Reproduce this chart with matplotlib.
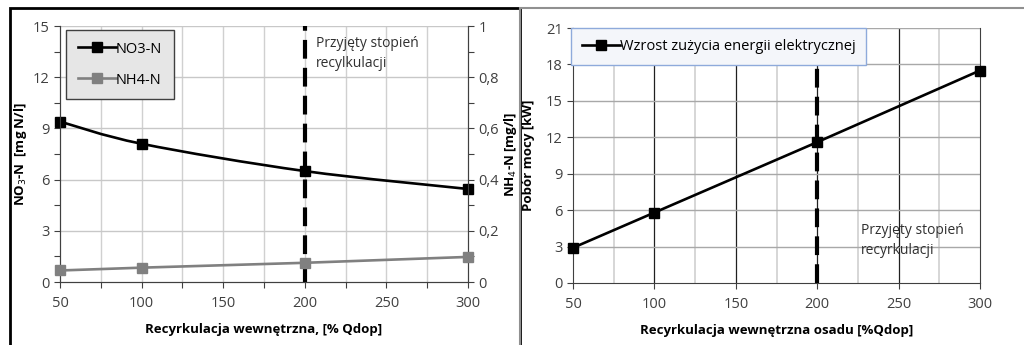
import matplotlib
matplotlib.use("Agg")
import matplotlib.pyplot as plt
from matplotlib.path import Path
from matplotlib.patches import PathPatch, Rectangle
from matplotlib.lines import Line2D

plt.rcParams['font.family'] = ['Liberation Sans Narrow', 'Open Sans', 'DejaVu Sans']

# data
recirc = [50, 100, 200, 300]
no3 = [9.4, 8.1, 6.5, 5.45]
nh4 = [0.045, 0.056, 0.075, 0.098]
power = [2.9, 5.8, 11.6, 17.5]
chosen = 200


def smooth_path(x, y):
    # Catmull-Rom -> cubic bezier, like Excel's smoothed line
    verts = [(x[0], y[0])]
    codes = [Path.MOVETO]
    n = len(x)
    for i in range(n - 1):
        x0, y0 = (x[i - 1], y[i - 1]) if i > 0 else (x[i], y[i])
        x1, y1 = x[i], y[i]
        x2, y2 = x[i + 1], y[i + 1]
        x3, y3 = (x[i + 2], y[i + 2]) if i + 2 < n else (x2, y2)
        c1 = (x1 + (x2 - x0) / 6, y1 + (y2 - y0) / 6)
        c2 = (x2 - (x3 - x1) / 6, y2 - (y3 - y1) / 6)
        verts += [c1, c2, (x2, y2)]
        codes += [Path.CURVE4] * 3
    return Path(verts, codes)


fig = plt.figure(figsize=(10.24, 3.45), dpi=100)

# panel frames
fig.patches.append(Rectangle((10 / 1024, -0.1), 510 / 1024, 1.1 - 8 / 345, transform=fig.transFigure,
                             fill=False, edgecolor='black', linewidth=2))
fig.patches.append(Rectangle((520 / 1024, -0.1), 0.6, 1.1 - 8 / 345, transform=fig.transFigure,
                             fill=False, edgecolor='#909090', linewidth=1.5))

TS = 10.5   # tick label size
LS = 9.5    # axis label size
MS = 7.5
LW = 1.9
tick_kw = dict(labelsize=TS, colors='#404040', length=4, width=0.8)

# ---------- left chart ----------
ax = fig.add_axes([60 / 1024, 1 - 282 / 345, 408 / 1024, 256 / 345])
ax.set_xlim(50, 300)
ax.set_ylim(0, 15)
ax.set_xticks(range(50, 301, 50))
ax.set_xticks(range(75, 300, 50), minor=True)
ax.set_yticks(range(0, 16, 3))
ax.set_yticks([1.5 + 3 * i for i in range(5)], minor=True)
for v in range(75, 300, 25):
    ax.axvline(v, color='#d0d0d0', lw=1, zorder=0)
for v in range(3, 16, 3):
    ax.axhline(v, color='#c8c8c8', lw=1, zorder=0)
ax.tick_params(axis='both', which='both', direction='out', **tick_kw)
ax.tick_params(axis='x', which='major', pad=6)
ax.tick_params(axis='both', which='minor', labelsize=0)
ax.spines['top'].set_visible(False)
for s in ['left', 'bottom', 'right']:
    ax.spines[s].set_color('#404040')
ax.set_xlabel('Recyrkulacja wewnętrzna, [% Qdop]', fontsize=LS, fontweight='bold', labelpad=9)
ax.set_ylabel('NO$_3$-N  [mg N/l]', fontsize=LS, fontweight='bold', labelpad=3)

ax.add_patch(PathPatch(smooth_path(recirc, no3), fill=False, edgecolor='black', lw=LW, zorder=4))
ax.plot(recirc, no3, ls='none', marker='s', ms=MS, color='black', zorder=5, clip_on=False)
ax.axvline(chosen, color='black', lw=3, dashes=(4.5, 2.2), zorder=3)
ax.text(207, 14.4, 'Przyjęty stopień\nrecylkulacji', fontsize=10, va='top', ha='left',
        color='#303030', linespacing=1.4)

ax2 = ax.twinx()
ax2.set_ylim(0, 1)
ax2.set_yticks([0, 0.2, 0.4, 0.6, 0.8, 1.0])
ax2.set_yticklabels(['0', '0,2', '0,4', '0,6', '0,8', '1'])
ax2.set_yticks([0.1, 0.3, 0.5, 0.7, 0.9], minor=True)
ax2.tick_params(axis='y', which='both', direction='out', **tick_kw)
ax2.tick_params(axis='y', which='minor', labelsize=0)
ax2.spines['top'].set_visible(False)
for s in ['left', 'bottom', 'right']:
    ax2.spines[s].set_color('#404040')
ax2.set_ylabel('NH$_4$-N [mg/l]', fontsize=LS, fontweight='bold', labelpad=2)
ax2.plot(recirc, nh4, color='#808080', lw=LW, marker='s', ms=MS, zorder=5, clip_on=False)

h1 = Line2D([], [], color='black', lw=LW, marker='s', ms=MS)
h2 = Line2D([], [], color='#808080', lw=LW, marker='s', ms=MS)
leg = ax2.legend([h1, h2], ['NO3-N', 'NH4-N'], loc='upper left', bbox_to_anchor=(0.015, 0.985),
                 fontsize=10.5, frameon=True, fancybox=False, handlelength=2.6, handletextpad=0.0,
                 borderpad=0.8, labelspacing=1.1, borderaxespad=0)
leg.get_frame().set_facecolor('#e6e6e6')
leg.get_frame().set_edgecolor('#404040')
leg.get_frame().set_alpha(1)

# ---------- right chart ----------
bx = fig.add_axes([573 / 1024, 1 - 283 / 345, 407 / 1024, 255 / 345])
bx.set_xlim(50, 300)
bx.set_ylim(0, 21)
bx.set_xticks(range(50, 301, 50))
bx.set_xticks(range(75, 300, 50), minor=True)
bx.set_yticks(range(0, 22, 3))
for v in range(75, 300, 50):
    bx.axvline(v, color='#d0d0d0', lw=1.2, zorder=0)
for v in range(100, 300, 50):
    bx.axvline(v, color='#202020', lw=0.9, zorder=0)
for v in range(3, 22, 3):
    bx.axhline(v, color='#a8a8a8', lw=1, zorder=0)
bx.tick_params(axis='both', which='major', direction='out', **tick_kw)
bx.tick_params(axis='x', which='major', pad=6)
bx.tick_params(axis='x', which='minor', length=0)
bx.spines['top'].set_visible(False)
for s in ['left', 'bottom', 'right']:
    bx.spines[s].set_color('#404040')
bx.set_xlabel('Recyrkulacja wewnętrzna osadu [%Qdop]', fontsize=LS, fontweight='bold', labelpad=9)
bx.set_ylabel('Pobór mocy [kW]', fontsize=LS, fontweight='bold', labelpad=8)

bx.plot(recirc, power, color='black', lw=LW, marker='s', ms=MS, zorder=5, clip_on=False)
bx.axvline(chosen, color='black', lw=3, dashes=(4.5, 2.2), zorder=3)
bx.text(227, 4.9, 'Przyjęty stopień\nrecyrkulacji', fontsize=10, va='top', ha='left',
        color='#303030', linespacing=1.4)

h3 = Line2D([], [], color='black', lw=LW, marker='s', ms=MS)
leg2 = bx.legend([h3], ['Wzrost zużycia energii elektrycznej'], loc='upper left',
                 bbox_to_anchor=(-0.005, 1.0), fontsize=10.5, frameon=True, fancybox=False,
                 handlelength=2.6, handletextpad=0.0, borderpad=0.75, borderaxespad=0)
leg2.get_frame().set_facecolor('#f4f6fa')
leg2.get_frame().set_edgecolor('#8eaadb')
leg2.get_frame().set_alpha(1)

fig.savefig('out.png', dpi=100)
